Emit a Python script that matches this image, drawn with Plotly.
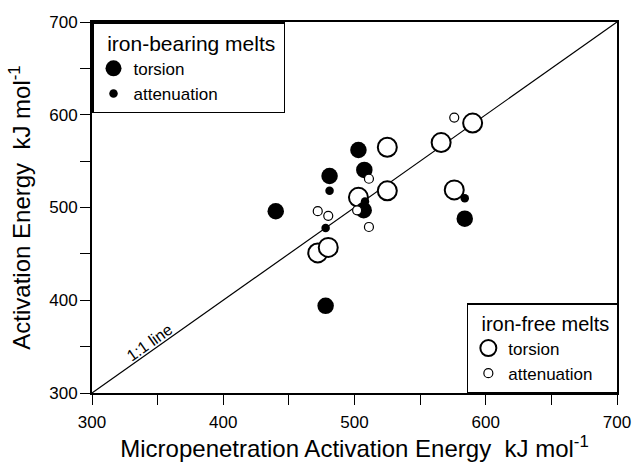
import plotly.graph_objects as go

# iron-bearing melts, torsion (filled large)
fe_tor_x = [440, 503, 481, 507.5, 507, 478, 584]
fe_tor_y = [496, 562, 534, 540.5, 497, 394, 488]
# iron-bearing melts, attenuation (filled small)
fe_att_x = [481, 508, 478, 584]
fe_att_y = [518, 506.5, 478, 510]
# iron-free melts, torsion (open large)
nofe_tor_x = [525, 566, 590, 525, 503, 472, 480, 576]
nofe_tor_y = [565, 570, 591, 518, 511, 451, 457, 519]
# iron-free melts, attenuation (open small)
nofe_att_x = [511, 502, 472, 480, 511, 576]
nofe_att_y = [531, 497, 496, 491, 479, 597]

one_to_one = [300, 700]

FONT = "Arial, Liberation Sans, sans-serif"

fig = go.Figure()
fig.add_trace(go.Scatter(x=one_to_one, y=one_to_one, mode="lines",
                         line=dict(color="black", width=1.2), showlegend=False,
                         hoverinfo="skip"))
fig.add_trace(go.Scatter(x=nofe_tor_x, y=nofe_tor_y, mode="markers", name="torsion",
                         marker=dict(size=19, color="white", line=dict(color="black", width=2)),
                         legend="legend2", legendrank=1))
fig.add_trace(go.Scatter(x=fe_tor_x, y=fe_tor_y, mode="markers", name="torsion",
                         marker=dict(size=16.5, color="black", line=dict(width=0)),
                         legend="legend", legendrank=1))
fig.add_trace(go.Scatter(x=fe_att_x, y=fe_att_y, mode="markers", name="attenuation",
                         marker=dict(size=8.5, color="black", line=dict(width=0)),
                         legend="legend", legendrank=2))
fig.add_trace(go.Scatter(x=nofe_att_x, y=nofe_att_y, mode="markers", name="attenuation",
                         marker=dict(size=9, color="white", line=dict(color="black", width=1.2)),
                         legend="legend2", legendrank=2))

fig.add_annotation(x=344, y=354, xref="x", yref="y", text="1:1 line", showarrow=False,
                   textangle=-35.3, font=dict(size=16, color="black", family=FONT))

axis_common = dict(range=[300, 700], tick0=300, dtick=100, ticks="outside", ticklen=10,
                   tickwidth=1, tickcolor="black", showgrid=False, zeroline=False,
                   showline=True, linewidth=2, linecolor="black", mirror=True,
                   automargin=False,
                   tickfont=dict(size=17, color="black", family=FONT),
                   minor=dict(dtick=50, ticks="outside", ticklen=10, tickwidth=1,
                              tickcolor="black", showgrid=False))

fig.update_xaxes(**axis_common, ticklabelstandoff=3,
                 title=dict(text="Micropenetration Activation Energy  kJ mol<sup>-1</sup>",
                            font=dict(size=24, color="black", family=FONT), standoff=4))
fig.update_yaxes(**axis_common, ticklabelstandoff=-1,
                 title=dict(text="Activation Energy  kJ mol<sup>-1</sup>",
                            font=dict(size=24, color="black", family=FONT), standoff=12))

legend_common = dict(bordercolor="black", borderwidth=1.5, bgcolor="white",
                     font=dict(size=17, color="black", family=FONT),
                     itemsizing="trace", tracegroupgap=0, traceorder="normal")
fig.update_layout(
    width=633, height=463,
    margin=dict(l=92, r=16, t=22, b=70, autoexpand=False),
    plot_bgcolor="white", paper_bgcolor="white",
    font=dict(family=FONT, color="black"),
    legend=dict(**legend_common, x=0, y=1, xanchor="left", yanchor="top",
                title=dict(text="&nbsp;&nbsp;iron-bearing melts&nbsp;",
                           font=dict(size=21, color="black", family=FONT))),
    legend2=dict(**legend_common, x=0.714, y=0, xanchor="left", yanchor="bottom",
                 title=dict(text="&nbsp;&nbsp;iron-free melts&nbsp;",
                            font=dict(size=20, color="black", family=FONT))),
)

fig.write_html("out.html")
